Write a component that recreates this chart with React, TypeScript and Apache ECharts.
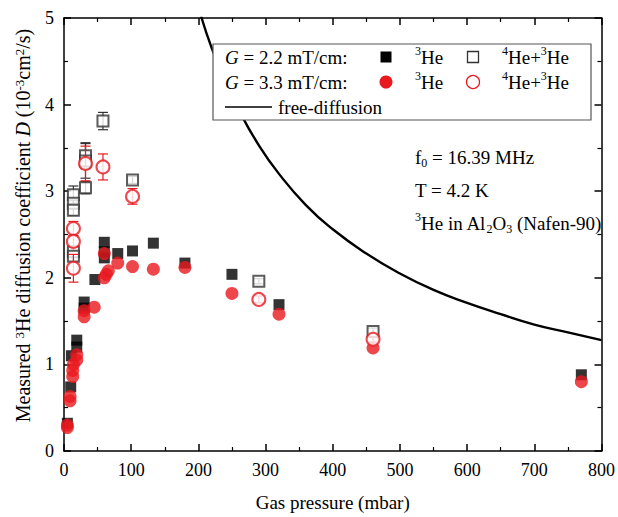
import { useEffect, useRef } from 'react';
import * as echarts from 'echarts';

const FONT = '"Liberation Serif", "Times New Roman", Times, serif';
const RED = '#e8191f';
const GREY = '#333333';

// G = 2.2 mT/cm, 3He (filled squares): [pressure mbar, D]
const sq22He3 = [
  [5, 0.32], [10, 0.74], [11, 1.10], [19, 1.28], [19, 1.20], [30, 1.72], [30, 1.65],
  [46, 1.98], [60, 2.41], [60, 2.30], [60, 2.23], [80, 2.28], [102, 2.31], [133, 2.40],
  [180, 2.17], [250, 2.04], [320, 1.69], [770, 0.88],
];
// G = 3.3 mT/cm, 3He (filled circles)
const ci33He3 = [
  [5, 0.27], [5, 0.30], [9, 0.58], [9, 0.63], [13, 0.86], [13, 0.93], [14, 1.0],
  [19, 1.05], [19, 1.11], [30, 1.55], [30, 1.62], [45, 1.66], [60, 2.28], [60, 2.0],
  [63, 2.04], [66, 2.08], [80, 2.17], [102, 2.13], [133, 2.10], [180, 2.12],
  [250, 1.82], [320, 1.58], [460, 1.19], [770, 0.80],
];
// G = 2.2 mT/cm, 4He+3He (open squares): [pressure, D, error]
const sq22He4He3 = [
  [14, 2.96, 0.1], [14, 2.86, 0.06], [14, 2.78, 0.06], [14, 2.30, 0.06], [14, 2.25, 0.05],
  [32, 3.41, 0.15], [32, 3.35, 0.2], [32, 3.04, 0.07], [58, 3.81, 0.1], [102, 3.13, 0.04],
  [290, 1.96, 0.03], [460, 1.38, 0.04],
];
// G = 3.3 mT/cm, 4He+3He (open circles): [pressure, D, error]
const ci33He4He3 = [
  [14, 2.57, 0.08], [14, 2.42, 0.06], [14, 2.11, 0.16], [32, 3.32, 0.2], [58, 3.28, 0.15],
  [102, 2.94, 0.09], [290, 1.75, 0.04], [460, 1.29, 0.03],
];
// free-diffusion curve
const freeDiffusion = [
  [204, 5.02], [220, 4.65], [240, 4.27], [260, 3.94], [290, 3.53], [320, 3.20],
  [360, 2.84], [400, 2.56], [450, 2.28], [500, 2.05], [550, 1.86], [600, 1.71],
  [650, 1.58], [700, 1.46], [750, 1.37], [800, 1.28],
];

const errRender = (color: string) => (params: any, api: any) => {
  const x = api.value(0);
  const lo = api.value(1);
  const hi = api.value(2);
  const a = api.coord([x, hi]);
  const b = api.coord([x, lo]);
  const w = 5;
  const style = { stroke: color, lineWidth: 1.2, fill: 'none' };
  return {
    type: 'group',
    children: [
      { type: 'line', shape: { x1: a[0], y1: a[1], x2: b[0], y2: b[1] }, style },
      { type: 'line', shape: { x1: a[0] - w, y1: a[1], x2: a[0] + w, y2: a[1] }, style },
      { type: 'line', shape: { x1: b[0] - w, y1: b[1], x2: b[0] + w, y2: b[1] }, style },
    ],
  };
};

const richG = {
  i: { fontStyle: 'italic', fontFamily: FONT, fontSize: 19, fill: '#000' },
  sup: { fontFamily: FONT, fontSize: 12, fill: '#000', verticalAlign: 'top' },
  sub: { fontFamily: FONT, fontSize: 12, fill: '#000', verticalAlign: 'bottom' },
  n: { fontFamily: FONT, fontSize: 19, fill: '#000', lineHeight: 24 },
};

function txt(x: number, y: number, text: string) {
  return {
    type: 'text',
    x,
    y,
    z: 101,
    style: {
      text,
      rich: richG,
      fontFamily: FONT,
      fontSize: 19,
      fill: '#000',
      verticalAlign: 'middle',
      align: 'left',
    },
  };
}

export default function App() {
  const ref = useRef<HTMLDivElement>(null);
  useEffect(() => {
    const chart = echarts.init(ref.current!, null, { renderer: 'svg' });
    const axisCommon = {
      type: 'value',
      axisLine: { show: true, onZero: false, lineStyle: { color: '#000', width: 1.5 } },
      axisTick: { show: true, inside: true, length: 7, lineStyle: { color: '#000', width: 1.5 } },
      minorTick: { show: true, splitNumber: 2, length: 4, lineStyle: { color: '#000', width: 1.2 } },
      splitLine: { show: false },
      minorSplitLine: { show: false },
    };
    const option: any = {
      animation: false,
      backgroundColor: '#fff',
      grid: { left: 64, right: 13, top: 18, bottom: 62 },
      xAxis: [
        {
          ...axisCommon,
          position: 'bottom',
          min: 0,
          max: 800,
          interval: 100,
          axisLabel: { fontFamily: FONT, fontSize: 18, color: '#000', margin: 10 },
          name: 'Gas pressure (mbar)',
          nameLocation: 'middle',
          nameGap: 42,
          nameTextStyle: { fontFamily: FONT, fontSize: 19, color: '#000' },
        },
        {
          ...axisCommon,
          position: 'top',
          min: 0,
          max: 800,
          interval: 100,
          axisLabel: { show: false },
        },
      ],
      yAxis: [
        {
          ...axisCommon,
          position: 'left',
          min: 0,
          max: 5,
          interval: 1,
          axisLabel: { fontFamily: FONT, fontSize: 18, color: '#000', margin: 10 },
          name: 'Measured {sup|3}He diffusion coefficient {i|D} (10{sup|-3}cm{sup|2}/s)',
          nameLocation: 'middle',
          nameGap: 31,
          nameTextStyle: {
            fontFamily: FONT,
            fontSize: 20,
            color: '#000',
            padding: [0, 0, 0, 18],
            rich: {
              i: { fontStyle: 'italic', fontFamily: FONT, fontSize: 20, color: '#000' },
              sup: { fontFamily: FONT, fontSize: 13, color: '#000', verticalAlign: 'top' },
            },
          },
        },
        {
          ...axisCommon,
          position: 'right',
          min: 0,
          max: 5,
          interval: 1,
          axisLabel: { show: false },
        },
      ],
      series: [
        {
          type: 'line',
          data: freeDiffusion,
          smooth: true,
          showSymbol: false,
          symbol: 'none',
          lineStyle: { color: '#000', width: 2.4 },
          clip: true,
          z: 1,
        },
        {
          type: 'scatter',
          data: sq22He3,
          symbol: 'rect',
          symbolSize: 11,
          itemStyle: { color: '#000' },
          z: 3,
        },
        {
          type: 'scatter',
          data: ci33He3,
          symbol: 'circle',
          symbolSize: 13,
          itemStyle: { color: RED },
          z: 4,
        },
        {
          type: 'custom',
          data: sq22He4He3.map((d) => [d[0], d[1] - d[2], d[1] + d[2]]),
          renderItem: errRender(GREY),
          encode: { x: 0, y: [1, 2] },
          z: 5,
        },
        {
          type: 'scatter',
          data: sq22He4He3.map((d) => [d[0], d[1]]),
          symbol: 'emptyRect',
          symbolSize: 11,
          itemStyle: { color: GREY, borderWidth: 1.3 },
          z: 6,
        },
        {
          type: 'custom',
          data: ci33He4He3.map((d) => [d[0], d[1] - d[2], d[1] + d[2]]),
          renderItem: errRender(RED),
          encode: { x: 0, y: [1, 2] },
          z: 7,
        },
        {
          type: 'scatter',
          data: ci33He4He3.map((d) => [d[0], d[1]]),
          symbol: 'emptyCircle',
          symbolSize: 13,
          itemStyle: { color: RED, borderWidth: 1.3 },
          z: 8,
        },
      ],
      graphic: [
        {
          type: 'rect',
          z: 100,
          shape: { x: 213, y: 44, width: 378, height: 76 },
          style: { fill: '#fff', stroke: '#555', lineWidth: 1.2 },
        },
        txt(225, 57, '{i|G}{n| = 2.2 mT/cm:}'),
        {
          type: 'rect',
          z: 101,
          shape: { x: 380.5, y: 51.5, width: 11, height: 11 },
          style: { fill: '#000' },
        },
        txt(415, 57, '{sup|3}{n|He}'),
        {
          type: 'rect',
          z: 101,
          shape: { x: 467.5, y: 51.5, width: 11, height: 11 },
          style: { fill: '#fff', stroke: GREY, lineWidth: 1.3 },
        },
        txt(502, 57, '{sup|4}{n|He+}{sup|3}{n|He}'),
        txt(225, 82, '{i|G}{n| = 3.3 mT/cm:}'),
        {
          type: 'circle',
          z: 101,
          shape: { cx: 386, cy: 82, r: 6.5 },
          style: { fill: RED },
        },
        txt(415, 82, '{sup|3}{n|He}'),
        {
          type: 'circle',
          z: 101,
          shape: { cx: 473, cy: 82, r: 6.5 },
          style: { fill: '#fff', stroke: RED, lineWidth: 1.3 },
        },
        txt(502, 82, '{sup|4}{n|He+}{sup|3}{n|He}'),
        {
          type: 'line',
          z: 101,
          shape: { x1: 225, y1: 107, x2: 272, y2: 107 },
          style: { stroke: '#000', lineWidth: 1.5 },
        },
        txt(278, 107, 'free-diffusion'),
        txt(415, 157, '{n|f}{sub|0}{n| = 16.39 MHz}'),
        txt(415, 190, 'T = 4.2 K'),
        txt(415, 223, '{sup|3}{n|He in Al}{sub|2}{n|O}{sub|3}{n| (Nafen-90)}'),
      ],
    };
    chart.setOption(option);
    return () => chart.dispose();
  }, []);
  return (
    <div
      ref={ref}
      style={{ position: 'fixed', left: 0, top: 0, width: 618, height: 517, background: '#fff' }}
    />
  );
}
